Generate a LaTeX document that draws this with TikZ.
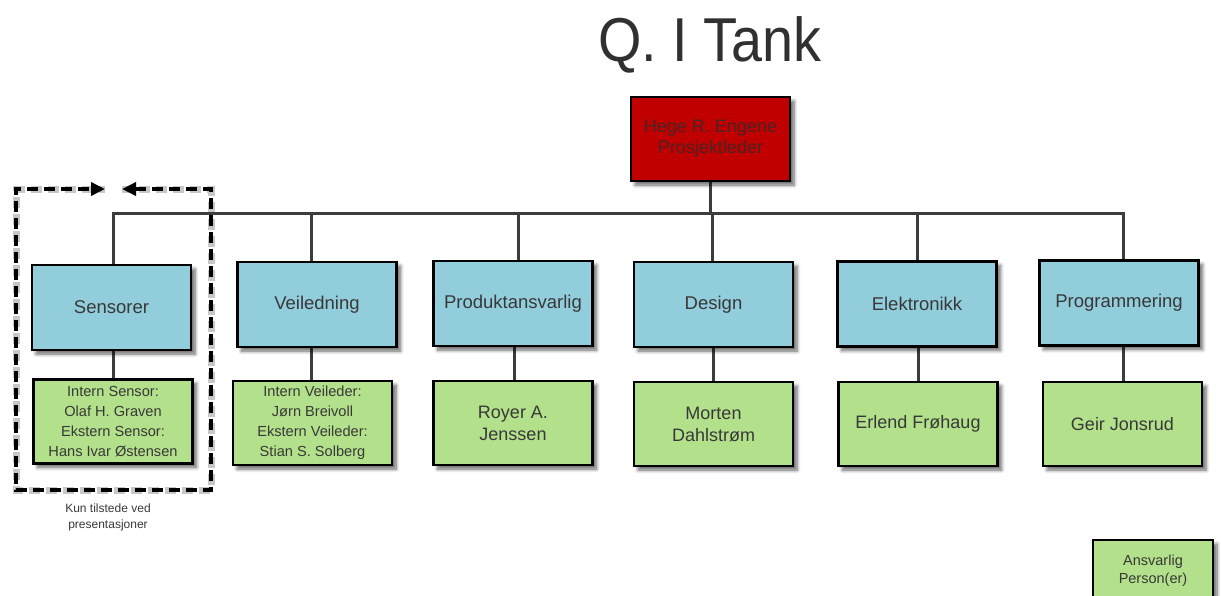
\documentclass[tikz,border=0pt]{standalone}
\usepackage{fontspec}
\setmainfont{Liberation Sans}
\usetikzlibrary{shadows.blur,arrows.meta,backgrounds}

\definecolor{headred}{HTML}{C00000}
\definecolor{rolebl}{HTML}{92CDDC}
\definecolor{persgr}{HTML}{B3E08A}
\definecolor{txtgray}{HTML}{383838}
\definecolor{headtxt}{HTML}{4A2424}
\definecolor{linegray}{HTML}{3C3C3C}

\tikzset{
  orgbox/.style={draw=black, line width=2.4pt, inner sep=0pt, align=center,
    text=txtgray,
    blur shadow={shadow xshift=4pt, shadow yshift=-4pt, shadow blur steps=8,
      shadow opacity=60, shadow blur radius=3.5pt}},
  rolebox/.style={orgbox, fill=rolebl, minimum width=159pt, minimum height=85pt,
    font=\fontsize{18.5}{22}\selectfont},
  persbox/.style={orgbox, fill=persgr, minimum width=159pt, minimum height=84pt,
    font=\fontsize{18}{22}\selectfont},
  smallpers/.style={persbox, font=\fontsize{14.6}{20}\selectfont},
  conn/.style={draw=linegray, line width=3pt},
  frameline/.style={line width=4pt, dash pattern=on 11pt off 6pt,
    {Triangle[length=14pt,width=13pt]}-{Triangle[length=14pt,width=13pt]}},
}

\begin{document}
\begin{tikzpicture}[x=1pt,y=-1pt]
\useasboundingbox (0,0) rectangle (1221,595);

% title
\node[text=txtgray!85!black, font=\fontsize{62}{64}\selectfont, anchor=base, xscale=0.9] (title) at (710,61) {Q. I Tank};

% project leader
\node[orgbox, fill=headred, text=headtxt, minimum width=159pt, minimum height=84pt,
  font=\fontsize{18}{21}\selectfont] (lead) at (710.5,139) {Hege R. Engene\\Prosjektleder};

% role boxes
\node[rolebox] (b1) at (111.5,307.5) {Sensorer};
\node[rolebox] (b2) at (317,304.5) {Veiledning};
\node[rolebox] (b3) at (513,303.5) {Produktansvarlig};
\node[rolebox] (b4) at (713.5,304.5) {Design};
\node[rolebox] (b5) at (917,304) {Elektronikk};
\node[rolebox] (b6) at (1119,303) {Programmering};

% responsible persons
\node[smallpers] (g1) at (113,421.5) {Intern Sensor:\\Olaf H. Graven\\Ekstern Sensor:\\Hans Ivar Østensen};
\node[smallpers] (g2) at (312.5,423) {Intern Veileder:\\Jørn Breivoll\\Ekstern Veileder:\\Stian S. Solberg};
\node[persbox] (g3) at (513,423) {Royer A.\\Jenssen};
\node[persbox] (g4) at (713.5,424) {Morten\\Dahlstrøm};
\node[persbox] (g5) at (918,424) {Erlend Frøhaug};
\node[persbox] (g6) at (1122.5,424) {Geir Jonsrud};

% legend
\node[orgbox, fill=persgr, minimum width=120pt, minimum height=62pt,
  font=\fontsize{14.5}{18}\selectfont] (legend) at (1153,571) {Ansvarlig\\Person(er)};

% note under the dashed frame
\node[text=txtgray, align=center, font=\fontsize{12}{16}\selectfont] (note) at (108,517)
  {Kun tilstede ved\\presentasjoner};

% dashed frame with arrow ends (soft shadow first)
\coordinate (fa) at (122,189);
\coordinate (fb) at (211,189);
\coordinate (fc) at (211,490);
\coordinate (fd) at (16,490);
\coordinate (fe) at (16,189);
\coordinate (ff) at (105,189);
\begin{scope}[on background layer]
  \begin{scope}[xshift=4pt, yshift=-4pt]
    \draw[line width=7pt, dash pattern=on 11pt off 6pt, draw=black!22, line join=miter]
      (fa) -- (fb) -- (fc) -- (fd) -- (fe) -- (ff);
  \end{scope}
\end{scope}
\draw[frameline, line join=miter] (fa) -- (fb) -- (fc) -- (fd) -- (fe) -- (ff);

% connectors behind the boxes
\coordinate (bus) at (0,213);
\begin{scope}[on background layer]
  \draw[conn] (lead.south) -- (lead.south |- bus);
  \draw[conn] ([xshift=1.5pt]b1.north) |- ([xshift=4pt]b6.north |- bus) -- ([xshift=4pt]b6.north);
  \draw[conn] ([xshift=-6pt]b2.north) -- ([xshift=-6pt]b2.north |- bus);
  \draw[conn] ([xshift=5pt]b3.north) -- ([xshift=5pt]b3.north |- bus);
  \draw[conn] ([xshift=-1.5pt]b4.north) -- ([xshift=-1.5pt]b4.north |- bus);
  \draw[conn] (b5.north) -- (b5.north |- bus);
  \draw[conn] ([xshift=1.5pt]b1.south) -- ([xshift=1.5pt]b1.south |- g1.north);
  \draw[conn] ([xshift=-6pt]b2.south) -- ([xshift=-6pt]b2.south |- g2.north);
  \draw[conn] ([xshift=1pt]b3.south) -- ([xshift=1pt]b3.south |- g3.north);
  \draw[conn] (b4.south) -- (b4.south |- g4.north);
  \draw[conn] ([xshift=1pt]b5.south) -- ([xshift=1pt]b5.south |- g5.north);
  \draw[conn] ([xshift=4pt]b6.south) -- ([xshift=4pt]b6.south |- g6.north);
\end{scope}
\end{tikzpicture}
\end{document}
